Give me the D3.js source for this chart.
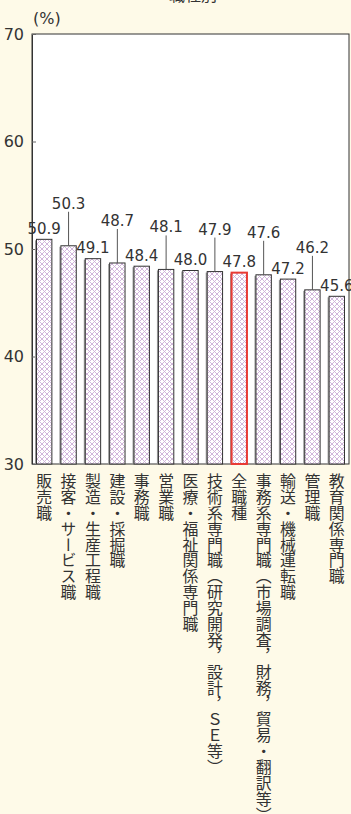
<!DOCTYPE html>
<html>
<head>
<meta charset="utf-8">
<script src="https://cdn.jsdelivr.net/npm/d3@7"></script>
<style>
  html, body { margin: 0; padding: 0; background: #fefae8; }
  svg { display: block; }
  text { font-family: "DejaVu Sans", "Noto Sans CJK JP", sans-serif; fill: #333; }
  text.cat { font-family: "Noto Sans CJK JP", sans-serif; }
</style>
</head>
<body>
<div id="chart"></div>
<script>
// Data
const categories = [
    '販売職',
    '接客・サービス職',
    '製造・生産工程職',
    '建設・採掘職',
    '事務職',
    '営業職',
    '医療・福祉関係専門職',
    '技術系専門職（研究開発，設計，ＳＥ等）',
    '全職種',
    '事務系専門職（市場調査，財務，貿易・翻訳等）',
    '輸送・機械運転職',
    '管理職',
    '教育関係専門職'
];
const values = [50.9, 50.3, 49.1, 48.7, 48.4, 48.1, 48.0, 47.9, 47.8, 47.6, 47.2, 46.2, 45.6];
const highlight = '全職種';
const yTicks = [30, 40, 50, 60, 70];
const unitLabel = '(%)';
const titleText = '職種別';

const width = 351;
const height = 814;
const margins = { top: 34, right: 2, bottom: 350, left: 32 };
const innerWidth = width - margins.left - margins.right;
const innerHeight = height - margins.top - margins.bottom;

const svg = d3.select('#chart')
    .append('svg')
    .attr('width', width)
    .attr('height', height);

// hatch pattern
const defs = svg.append('defs');
const pat = defs.append('pattern')
    .attr('id', 'hatch')
    .attr('patternUnits', 'userSpaceOnUse')
    .attr('width', 5)
    .attr('height', 5);
pat.append('rect').attr('width', 5).attr('height', 5).attr('fill', '#fff');
pat.append('path')
    .attr('d', 'M0,0 L5,5 M5,0 L0,5')
    .attr('stroke', '#cdaed8')
    .attr('stroke-width', 0.9);

// cut-off title at the very top
svg.append('text')
    .attr('x', 193)
    .attr('y', 1)
    .attr('text-anchor', 'middle')
    .style('font-family', '"Noto Sans CJK JP", sans-serif')
    .style('font-size', '16px')
    .text(titleText);

const g = svg.append('g')
    .attr('transform', `translate(${margins.left},${margins.top})`);

const x = d3.scaleBand()
    .domain(categories)
    .range([0, innerWidth])
    .paddingInner(0.37)
    .paddingOuter(0.185);

const y = d3.scaleLinear()
    .domain([30, 70])
    .range([innerHeight, 0]);

// plot background
g.append('rect')
    .attr('width', innerWidth)
    .attr('height', innerHeight)
    .attr('fill', '#fff')
    .attr('stroke', '#333')
    .attr('stroke-width', 1);

// y axis
const yAxis = d3.axisLeft(y)
    .tickValues(yTicks)
    .tickSize(-4)
    .tickPadding(8)
    .tickFormat(d3.format('d'));

const ya = g.append('g').call(yAxis);
ya.select('.domain').attr('stroke', '#333');
ya.selectAll('.tick line').attr('stroke', '#666');
ya.selectAll('.tick text')
    .style('font-size', '16px')
    .attr('fill', '#333');

svg.append('text')
    .attr('x', 33)
    .attr('y', 24)
    .style('font-size', '16px')
    .text(unitLabel);

// bars
const bars = g.selectAll('.bar')
    .data(categories)
    .enter().append('g')
    .attr('class', 'bar');

bars.append('rect')
    .attr('x', d => x(d) - 1.5)
    .attr('y', (d, i) => y(values[i]) + 1)
    .attr('width', 1.5)
    .attr('height', (d, i) => innerHeight - y(values[i]) - 1)
    .attr('fill', '#999');

bars.append('rect')
    .attr('x', d => x(d))
    .attr('y', (d, i) => y(values[i]))
    .attr('width', x.bandwidth())
    .attr('height', (d, i) => innerHeight - y(values[i]))
    .attr('fill', 'url(#hatch)')
    .attr('stroke', d => d === highlight ? '#e83a34' : '#333')
    .attr('stroke-width', d => d === highlight ? 2 : 1);

// value labels: every other one is lifted with a leader line
const lift = 37;
bars.each(function(d, i) {
    const sel = d3.select(this);
    const cx = x(d) + x.bandwidth() / 2;
    const top = y(values[i]);
    const raised = i % 2 === 1;
    const base = raised ? top - lift : top - 5.5;
    if (raised) {
        sel.append('line')
            .attr('x1', cx).attr('x2', cx)
            .attr('y1', base + 3)
            .attr('y2', top)
            .attr('stroke', '#555')
            .attr('stroke-width', 1);
    }
    sel.append('text')
        .attr('x', cx)
        .attr('y', base)
        .attr('text-anchor', 'middle')
        .style('font-size', '15px')
        .text(d3.format('.1f')(values[i]));
});

// vertical category labels
g.selectAll('.cat')
    .data(categories)
    .enter().append('text')
    .attr('class', 'cat')
    .attr('x', d => x(d) + x.bandwidth() / 2)
    .attr('y', innerHeight + 9)
    .style('writing-mode', 'vertical-rl')
    .style('font-size', '15.9px')
    .text(d => d);
</script>
</body>
</html>
